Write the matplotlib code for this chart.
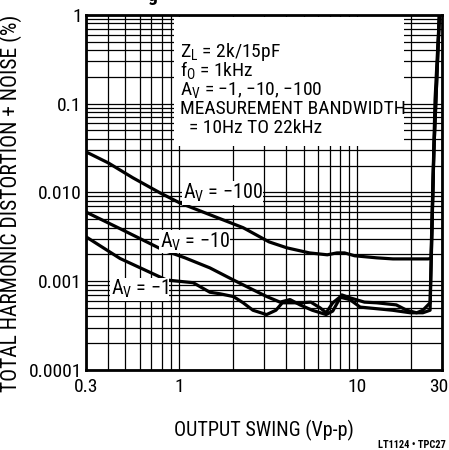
import matplotlib
matplotlib.use("Agg")
import matplotlib.pyplot as plt
from matplotlib.patches import Rectangle
from matplotlib.transforms import ScaledTranslation
from matplotlib.ticker import FixedLocator, FixedFormatter, NullFormatter

FONT = ["Roboto Condensed", "Archivo Narrow", "DejaVu Sans"]
plt.rcParams["font.family"] = FONT
plt.rcParams["mathtext.fontset"] = "custom"
plt.rcParams["mathtext.rm"] = "Roboto Condensed"
plt.rcParams["mathtext.it"] = "Roboto Condensed"

# THD+N (%) versus output swing (Vp-p)
swing_av100 = [0.30, 0.40, 0.55, 0.78, 1.01, 1.49, 2.29, 3.2, 4.04, 5.4, 6.8, 7.7,
               8.5, 9.7, 12.9, 15.9, 25.0, 26.0, 27.4, 29.0]
thd_av100 = [0.0286, 0.0215, 0.0146, 0.0099, 0.0076, 0.0056, 0.0040, 0.00277, 0.00237,
             0.00208, 0.00198, 0.00208, 0.00208, 0.00193, 0.00183, 0.00178, 0.00178,
             0.0018, 0.11, 1.0]

swing_av10 = [0.30, 0.466, 0.81, 1.08, 1.49, 2.02, 2.6, 3.11, 3.69, 4.2, 4.78, 5.6, 6.7,
              7.3, 8.2, 9.1, 11.0, 12.9, 16.6, 19.0, 21.6, 23.4, 25.7, 27.0, 29.0]
thd_av10 = [0.0060, 0.0039, 0.00225, 0.00183, 0.00141, 0.00103, 0.0008, 0.00067, 0.00058,
            0.00062, 0.00054, 0.00047, 0.00042, 0.00046, 0.0007, 0.00065, 0.00058, 0.00057,
            0.00054, 0.00047, 0.00044, 0.00047, 0.00057, 0.030, 1.0]

swing_av1 = [0.30, 0.466, 0.85, 1.2, 1.49, 1.7, 2.02, 2.29, 2.6, 3.1, 3.5, 3.8, 4.8, 5.5,
             6.2, 6.7, 7.3, 8.0, 9.1, 10.4, 15.8, 19.9, 23.4, 25.7, 27.0, 29.0]
thd_av1 = [0.00316, 0.0018, 0.00103, 0.00096, 0.00075, 0.00072, 0.00067, 0.00057, 0.00047,
           0.00042, 0.00047, 0.00057, 0.00057, 0.00058, 0.0005, 0.00044, 0.00057, 0.00066,
           0.00062, 0.00051, 0.00047, 0.00044, 0.00044, 0.00047, 0.030, 1.0]

x_ticks = [0.3, 1, 10, 30]
x_ticklabels = ["0.3", "1", "10", "30"]
y_ticks = [0.0001, 0.001, 0.01, 0.1, 1]
y_ticklabels = ["0.0001", "0.001", "0.010", "0.1", "1"]

conditions = [r"Z$_\mathrm{L}$ = 2k/15pF", r"f$_\mathrm{O}$ = 1kHz",
              r"A$_\mathrm{V}$ = −1, −10, −100", "MEASUREMENT BANDWIDTH",
              "  = 10Hz TO 22kHz"]
curve_labels = [r"A$_\mathrm{V}$ = −100", r"A$_\mathrm{V}$ = −10", r"A$_\mathrm{V}$ = −1"]
label_x = [1.05, 0.78, 0.415]
label_y = [0.0099, 0.0028, 0.00081]

fig = plt.figure(figsize=(4.49, 4.5), dpi=100)
ax = fig.add_axes([0.1915, 0.178, 0.793, 0.789])
ax.set_xscale("log")
ax.set_yscale("log")
ax.set_xlim(0.3, 30)
ax.set_ylim(0.0001, 1)

ax.xaxis.set_major_locator(FixedLocator(x_ticks))
ax.xaxis.set_major_formatter(FixedFormatter(x_ticklabels))
ax.xaxis.set_minor_formatter(NullFormatter())
ax.yaxis.set_major_locator(FixedLocator(y_ticks))
ax.yaxis.set_major_formatter(FixedFormatter(y_ticklabels))
ax.yaxis.set_minor_formatter(NullFormatter())
ax.tick_params(which="both", length=0, labelsize=14)
ax.tick_params(axis="x", pad=6)
ax.tick_params(axis="y", pad=3)
ax.grid(True, which="both", color="black", lw=0.9)
for s in ax.spines.values():
    s.set_linewidth(2)

# nudge the "30" label left so it stays on the canvas
last = ax.xaxis.get_major_ticks()[-1]
last.label1.set_transform(last.label1.get_transform()
                          + ScaledTranslation(-0.03, 0, fig.dpi_scale_trans))

for xs, ys in [(swing_av100, thd_av100), (swing_av10, thd_av10), (swing_av1, thd_av1)]:
    ax.plot(xs, ys, color="black", lw=2.3, zorder=4, solid_joinstyle="round")

# white condition box over the grid
ax.add_patch(Rectangle((0.247, 0.631), 0.646, 0.364, transform=ax.transAxes,
                       facecolor="white", edgecolor="none", zorder=3))
for i, line in enumerate(conditions):
    ax.text(0.264, 0.882 - i * 0.0535, line, transform=ax.transAxes, fontsize=14,
            va="baseline", ha="left", zorder=5)

for txt, lx, ly in zip(curve_labels, label_x, label_y):
    ax.text(lx, ly, txt, fontsize=14.5, va="center", ha="left", zorder=5,
            bbox=dict(facecolor="white", edgecolor="none", pad=0.5))

ax.set_ylabel("TOTAL HARMONIC DISTORTION + NOISE (%)", fontsize=15.5)
ax.yaxis.set_label_coords(-0.18, 0.47)
ax.set_xlabel("OUTPUT SWING (Vp-p)", fontsize=14.5, labelpad=17)
fig.text(0.992, 0.012, "LT1124 • TPC27", fontsize=7.5, fontweight="bold",
         ha="right", va="center")
# bottom of the cropped title glyph at the top edge
fig.text(0.34, 0.998, "g", fontsize=14, fontweight="bold", ha="center", va="baseline")

fig.savefig("out.png", dpi=100)
